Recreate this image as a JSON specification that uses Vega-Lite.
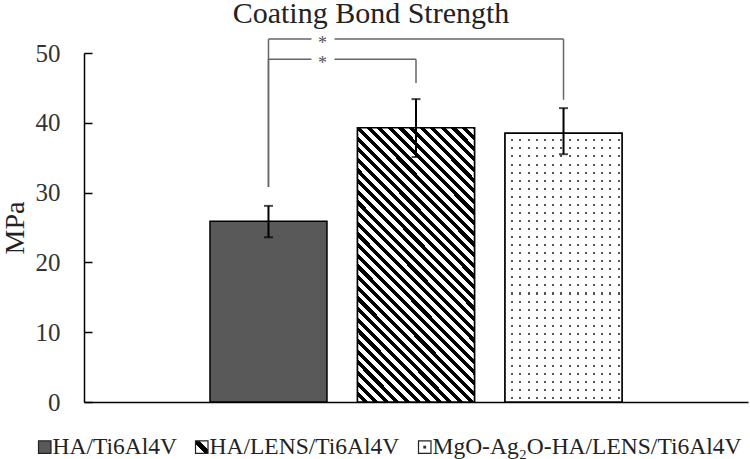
{
  "$schema": "https://vega.github.io/schema/vega-lite/v6.json",
  "width": 664,
  "height": 349,
  "autosize": {"type": "none"},
  "padding": {"left": 84, "top": 53, "right": 2, "bottom": 57},
  "background": "white",
  "title": {"text": "Coating Bond Strength", "font": "Liberation Serif", "fontSize": 30, "fontWeight": "normal", "color": "#222222", "anchor": "middle", "frame": "group", "dx": -45, "offset": -18, "baseline": "alphabetic"},
  "datasets": {
    "bars": [
      {"group": "HA/Ti6Al4V", "mpa": 25.9, "lo": 23.6, "hi": 28.1},
      {"group": "HA/LENS/Ti6Al4V", "mpa": 39.3, "lo": 35.1, "hi": 43.4},
      {"group": "MgO-Ag₂O-HA/LENS/Ti6Al4V", "mpa": 38.5, "lo": 35.5, "hi": 42.1}
    ],
    "brackets": [
      {"g1": "HA/Ti6Al4V", "g2": "MgO-Ag₂O-HA/LENS/Ti6Al4V", "level": 52.0, "end1": 30.8, "end2": 43.3},
      {"g1": "HA/Ti6Al4V", "g2": "HA/LENS/Ti6Al4V", "level": 49.1, "end1": 30.8, "end2": 45.7}
    ]
  },
  "config": {
    "view": {"stroke": null},
    "axisX": {"labels": false, "ticks": false, "grid": false, "domainColor": "black", "domainWidth": 1.5},
    "axisY": {"grid": false, "domainColor": "black", "domainWidth": 1.5, "tickColor": "black", "tickWidth": 1.5, "tickSize": -8, "labelPadding": 32, "labelFont": "Liberation Serif", "labelFontSize": 25, "labelColor": "#333333", "titleFont": "Liberation Serif", "titleFontSize": 28, "titleFontWeight": "normal", "titleColor": "#222222", "titleX": -61, "titleBaseline": "alphabetic"}
  },
  "layer": [
    {
      "data": {"name": "bars"},
      "mark": {"type": "bar", "stroke": "black", "strokeWidth": 1.5},
      "encoding": {
        "x": {"field": "group", "type": "nominal", "sort": null, "title": null, "scale": {"domain": ["HA/Ti6Al4V", "HA/LENS/Ti6Al4V", "MgO-Ag₂O-HA/LENS/Ti6Al4V"], "paddingInner": 0.207, "paddingOuter": 0.854}},
        "y": {"field": "mpa", "type": "quantitative", "title": "MPa", "scale": {"domain": [0, 50], "nice": false}, "axis": {"values": [0, 10, 20, 30, 40, 50]}},
        "fill": {
          "field": "group", "type": "nominal",
          "scale": {
            "domain": ["HA/Ti6Al4V", "HA/LENS/Ti6Al4V", "MgO-Ag₂O-HA/LENS/Ti6Al4V"],
            "range": [
              "#595959",
              {"expr": "{gradient: 'linear', x1: 0, y1: 1, x2: 1, y2: 0, stops: [{offset: 0, color: 'white'}, {offset: 0.36, color: 'white'}, {offset: 0.36, color: 'black'}, {offset: 0.64, color: 'black'}, {offset: 0.64, color: 'white'}, {offset: 1, color: 'white'}]}"},
              {"expr": "{gradient: 'radial', x1: 0.5, y1: 0.5, r1: 0, x2: 0.5, y2: 0.5, r2: 0.5, stops: [{offset: 0, color: '#333333'}, {offset: 0.28, color: '#333333'}, {offset: 0.28, color: 'white'}, {offset: 1, color: 'white'}]}"}
            ]
          },
          "legend": {"title": null, "orient": "none", "legendX": -51, "legendY": 382, "direction": "horizontal", "columns": 3, "labelFont": "Liberation Serif", "labelFontSize": 23.5, "labelColor": "#222222", "labelLimit": 500, "symbolType": "square", "symbolSize": 156, "symbolStrokeColor": "#222222", "symbolStrokeWidth": 1.2, "columnPadding": 13, "labelOffset": -4}
        }
      }
    },
    {
      "data": {"name": "bars"},
      "transform": [{"filter": "datum.group === 'HA/LENS/Ti6Al4V'"}],
      "mark": {"type": "bar", "stroke": "black", "strokeWidth": 1.5, "fill": {"gradient": "linear", "x1": 0, "y1": 1, "x2": 0.563, "y2": -0.313, "stops": [
        {"offset": 0, "color": "#fff"}, {"offset": 0.013, "color": "#fff"}, {"offset": 0.013, "color": "#000"}, {"offset": 0.025, "color": "#000"},
        {"offset": 0.025, "color": "#fff"}, {"offset": 0.038, "color": "#fff"}, {"offset": 0.038, "color": "#000"}, {"offset": 0.05, "color": "#000"},
        {"offset": 0.05, "color": "#fff"}, {"offset": 0.063, "color": "#fff"}, {"offset": 0.063, "color": "#000"}, {"offset": 0.075, "color": "#000"},
        {"offset": 0.075, "color": "#fff"}, {"offset": 0.088, "color": "#fff"}, {"offset": 0.088, "color": "#000"}, {"offset": 0.1, "color": "#000"},
        {"offset": 0.1, "color": "#fff"}, {"offset": 0.113, "color": "#fff"}, {"offset": 0.113, "color": "#000"}, {"offset": 0.125, "color": "#000"},
        {"offset": 0.125, "color": "#fff"}, {"offset": 0.138, "color": "#fff"}, {"offset": 0.138, "color": "#000"}, {"offset": 0.15, "color": "#000"},
        {"offset": 0.15, "color": "#fff"}, {"offset": 0.163, "color": "#fff"}, {"offset": 0.163, "color": "#000"}, {"offset": 0.175, "color": "#000"},
        {"offset": 0.175, "color": "#fff"}, {"offset": 0.188, "color": "#fff"}, {"offset": 0.188, "color": "#000"}, {"offset": 0.2, "color": "#000"},
        {"offset": 0.2, "color": "#fff"}, {"offset": 0.213, "color": "#fff"}, {"offset": 0.213, "color": "#000"}, {"offset": 0.225, "color": "#000"},
        {"offset": 0.225, "color": "#fff"}, {"offset": 0.238, "color": "#fff"}, {"offset": 0.238, "color": "#000"}, {"offset": 0.25, "color": "#000"},
        {"offset": 0.25, "color": "#fff"}, {"offset": 0.263, "color": "#fff"}, {"offset": 0.263, "color": "#000"}, {"offset": 0.275, "color": "#000"},
        {"offset": 0.275, "color": "#fff"}, {"offset": 0.288, "color": "#fff"}, {"offset": 0.288, "color": "#000"}, {"offset": 0.3, "color": "#000"},
        {"offset": 0.3, "color": "#fff"}, {"offset": 0.313, "color": "#fff"}, {"offset": 0.313, "color": "#000"}, {"offset": 0.325, "color": "#000"},
        {"offset": 0.325, "color": "#fff"}, {"offset": 0.338, "color": "#fff"}, {"offset": 0.338, "color": "#000"}, {"offset": 0.35, "color": "#000"},
        {"offset": 0.35, "color": "#fff"}, {"offset": 0.363, "color": "#fff"}, {"offset": 0.363, "color": "#000"}, {"offset": 0.375, "color": "#000"},
        {"offset": 0.375, "color": "#fff"}, {"offset": 0.388, "color": "#fff"}, {"offset": 0.388, "color": "#000"}, {"offset": 0.4, "color": "#000"},
        {"offset": 0.4, "color": "#fff"}, {"offset": 0.413, "color": "#fff"}, {"offset": 0.413, "color": "#000"}, {"offset": 0.425, "color": "#000"},
        {"offset": 0.425, "color": "#fff"}, {"offset": 0.438, "color": "#fff"}, {"offset": 0.438, "color": "#000"}, {"offset": 0.45, "color": "#000"},
        {"offset": 0.45, "color": "#fff"}, {"offset": 0.463, "color": "#fff"}, {"offset": 0.463, "color": "#000"}, {"offset": 0.475, "color": "#000"},
        {"offset": 0.475, "color": "#fff"}, {"offset": 0.488, "color": "#fff"}, {"offset": 0.488, "color": "#000"}, {"offset": 0.5, "color": "#000"},
        {"offset": 0.5, "color": "#fff"}, {"offset": 0.513, "color": "#fff"}, {"offset": 0.513, "color": "#000"}, {"offset": 0.525, "color": "#000"},
        {"offset": 0.525, "color": "#fff"}, {"offset": 0.538, "color": "#fff"}, {"offset": 0.538, "color": "#000"}, {"offset": 0.55, "color": "#000"},
        {"offset": 0.55, "color": "#fff"}, {"offset": 0.563, "color": "#fff"}, {"offset": 0.563, "color": "#000"}, {"offset": 0.575, "color": "#000"},
        {"offset": 0.575, "color": "#fff"}, {"offset": 0.588, "color": "#fff"}, {"offset": 0.588, "color": "#000"}, {"offset": 0.6, "color": "#000"},
        {"offset": 0.6, "color": "#fff"}, {"offset": 0.613, "color": "#fff"}, {"offset": 0.613, "color": "#000"}, {"offset": 0.625, "color": "#000"},
        {"offset": 0.625, "color": "#fff"}, {"offset": 0.638, "color": "#fff"}, {"offset": 0.638, "color": "#000"}, {"offset": 0.65, "color": "#000"},
        {"offset": 0.65, "color": "#fff"}, {"offset": 0.663, "color": "#fff"}, {"offset": 0.663, "color": "#000"}, {"offset": 0.675, "color": "#000"},
        {"offset": 0.675, "color": "#fff"}, {"offset": 0.688, "color": "#fff"}, {"offset": 0.688, "color": "#000"}, {"offset": 0.7, "color": "#000"},
        {"offset": 0.7, "color": "#fff"}, {"offset": 0.713, "color": "#fff"}, {"offset": 0.713, "color": "#000"}, {"offset": 0.725, "color": "#000"},
        {"offset": 0.725, "color": "#fff"}, {"offset": 0.738, "color": "#fff"}, {"offset": 0.738, "color": "#000"}, {"offset": 0.75, "color": "#000"},
        {"offset": 0.75, "color": "#fff"}, {"offset": 0.763, "color": "#fff"}, {"offset": 0.763, "color": "#000"}, {"offset": 0.775, "color": "#000"},
        {"offset": 0.775, "color": "#fff"}, {"offset": 0.788, "color": "#fff"}, {"offset": 0.788, "color": "#000"}, {"offset": 0.8, "color": "#000"},
        {"offset": 0.8, "color": "#fff"}, {"offset": 0.813, "color": "#fff"}, {"offset": 0.813, "color": "#000"}, {"offset": 0.825, "color": "#000"},
        {"offset": 0.825, "color": "#fff"}, {"offset": 0.838, "color": "#fff"}, {"offset": 0.838, "color": "#000"}, {"offset": 0.85, "color": "#000"},
        {"offset": 0.85, "color": "#fff"}, {"offset": 0.863, "color": "#fff"}, {"offset": 0.863, "color": "#000"}, {"offset": 0.875, "color": "#000"},
        {"offset": 0.875, "color": "#fff"}, {"offset": 0.888, "color": "#fff"}, {"offset": 0.888, "color": "#000"}, {"offset": 0.9, "color": "#000"},
        {"offset": 0.9, "color": "#fff"}, {"offset": 0.913, "color": "#fff"}, {"offset": 0.913, "color": "#000"}, {"offset": 0.925, "color": "#000"},
        {"offset": 0.925, "color": "#fff"}, {"offset": 0.938, "color": "#fff"}, {"offset": 0.938, "color": "#000"}, {"offset": 0.95, "color": "#000"},
        {"offset": 0.95, "color": "#fff"}, {"offset": 1, "color": "#fff"}
      ]}},
      "encoding": {
        "x": {"field": "group", "type": "nominal", "sort": null, "title": null, "scale": {"domain": ["HA/Ti6Al4V", "HA/LENS/Ti6Al4V", "MgO-Ag₂O-HA/LENS/Ti6Al4V"], "paddingInner": 0.207, "paddingOuter": 0.854}},
        "y": {"field": "mpa", "type": "quantitative", "title": "MPa"}
      }
    },
    {
      "data": {"name": "bars"},
      "transform": [{"filter": "datum.group !== 'HA/Ti6Al4V' && datum.group !== 'HA/LENS/Ti6Al4V'"}],
      "mark": {"type": "bar", "strokeWidth": 0, "fill": {"gradient": "linear", "x1": 0, "y1": 0, "x2": 0, "y2": 1, "stops": [
        {"offset": 0, "color": "#fff"}, {"offset": 0.0225, "color": "#fff"}, {"offset": 0.0225, "color": "#555"}, {"offset": 0.03, "color": "#555"},
        {"offset": 0.03, "color": "#fff"}, {"offset": 0.0525, "color": "#fff"}, {"offset": 0.0525, "color": "#555"}, {"offset": 0.06, "color": "#555"},
        {"offset": 0.06, "color": "#fff"}, {"offset": 0.0825, "color": "#fff"}, {"offset": 0.0825, "color": "#555"}, {"offset": 0.09, "color": "#555"},
        {"offset": 0.09, "color": "#fff"}, {"offset": 0.1125, "color": "#fff"}, {"offset": 0.1125, "color": "#555"}, {"offset": 0.12, "color": "#555"},
        {"offset": 0.12, "color": "#fff"}, {"offset": 0.1425, "color": "#fff"}, {"offset": 0.1425, "color": "#555"}, {"offset": 0.15, "color": "#555"},
        {"offset": 0.15, "color": "#fff"}, {"offset": 0.1725, "color": "#fff"}, {"offset": 0.1725, "color": "#555"}, {"offset": 0.18, "color": "#555"},
        {"offset": 0.18, "color": "#fff"}, {"offset": 0.2025, "color": "#fff"}, {"offset": 0.2025, "color": "#555"}, {"offset": 0.21, "color": "#555"},
        {"offset": 0.21, "color": "#fff"}, {"offset": 0.2325, "color": "#fff"}, {"offset": 0.2325, "color": "#555"}, {"offset": 0.24, "color": "#555"},
        {"offset": 0.24, "color": "#fff"}, {"offset": 0.2625, "color": "#fff"}, {"offset": 0.2625, "color": "#555"}, {"offset": 0.27, "color": "#555"},
        {"offset": 0.27, "color": "#fff"}, {"offset": 0.2925, "color": "#fff"}, {"offset": 0.2925, "color": "#555"}, {"offset": 0.3, "color": "#555"},
        {"offset": 0.3, "color": "#fff"}, {"offset": 0.3225, "color": "#fff"}, {"offset": 0.3225, "color": "#555"}, {"offset": 0.33, "color": "#555"},
        {"offset": 0.33, "color": "#fff"}, {"offset": 0.3525, "color": "#fff"}, {"offset": 0.3525, "color": "#555"}, {"offset": 0.36, "color": "#555"},
        {"offset": 0.36, "color": "#fff"}, {"offset": 0.3825, "color": "#fff"}, {"offset": 0.3825, "color": "#555"}, {"offset": 0.39, "color": "#555"},
        {"offset": 0.39, "color": "#fff"}, {"offset": 0.4125, "color": "#fff"}, {"offset": 0.4125, "color": "#555"}, {"offset": 0.42, "color": "#555"},
        {"offset": 0.42, "color": "#fff"}, {"offset": 0.4425, "color": "#fff"}, {"offset": 0.4425, "color": "#555"}, {"offset": 0.45, "color": "#555"},
        {"offset": 0.45, "color": "#fff"}, {"offset": 0.4725, "color": "#fff"}, {"offset": 0.4725, "color": "#555"}, {"offset": 0.48, "color": "#555"},
        {"offset": 0.48, "color": "#fff"}, {"offset": 0.5025, "color": "#fff"}, {"offset": 0.5025, "color": "#555"}, {"offset": 0.51, "color": "#555"},
        {"offset": 0.51, "color": "#fff"}, {"offset": 0.5325, "color": "#fff"}, {"offset": 0.5325, "color": "#555"}, {"offset": 0.54, "color": "#555"},
        {"offset": 0.54, "color": "#fff"}, {"offset": 0.5625, "color": "#fff"}, {"offset": 0.5625, "color": "#555"}, {"offset": 0.57, "color": "#555"},
        {"offset": 0.57, "color": "#fff"}, {"offset": 0.5925, "color": "#fff"}, {"offset": 0.5925, "color": "#555"}, {"offset": 0.6, "color": "#555"},
        {"offset": 0.6, "color": "#fff"}, {"offset": 0.6225, "color": "#fff"}, {"offset": 0.6225, "color": "#555"}, {"offset": 0.63, "color": "#555"},
        {"offset": 0.63, "color": "#fff"}, {"offset": 0.6525, "color": "#fff"}, {"offset": 0.6525, "color": "#555"}, {"offset": 0.66, "color": "#555"},
        {"offset": 0.66, "color": "#fff"}, {"offset": 0.6825, "color": "#fff"}, {"offset": 0.6825, "color": "#555"}, {"offset": 0.69, "color": "#555"},
        {"offset": 0.69, "color": "#fff"}, {"offset": 0.7125, "color": "#fff"}, {"offset": 0.7125, "color": "#555"}, {"offset": 0.72, "color": "#555"},
        {"offset": 0.72, "color": "#fff"}, {"offset": 0.7425, "color": "#fff"}, {"offset": 0.7425, "color": "#555"}, {"offset": 0.75, "color": "#555"},
        {"offset": 0.75, "color": "#fff"}, {"offset": 0.7725, "color": "#fff"}, {"offset": 0.7725, "color": "#555"}, {"offset": 0.78, "color": "#555"},
        {"offset": 0.78, "color": "#fff"}, {"offset": 0.8025, "color": "#fff"}, {"offset": 0.8025, "color": "#555"}, {"offset": 0.81, "color": "#555"},
        {"offset": 0.81, "color": "#fff"}, {"offset": 0.8325, "color": "#fff"}, {"offset": 0.8325, "color": "#555"}, {"offset": 0.84, "color": "#555"},
        {"offset": 0.84, "color": "#fff"}, {"offset": 0.8625, "color": "#fff"}, {"offset": 0.8625, "color": "#555"}, {"offset": 0.87, "color": "#555"},
        {"offset": 0.87, "color": "#fff"}, {"offset": 0.8925, "color": "#fff"}, {"offset": 0.8925, "color": "#555"}, {"offset": 0.9, "color": "#555"},
        {"offset": 0.9, "color": "#fff"}, {"offset": 0.9225, "color": "#fff"}, {"offset": 0.9225, "color": "#555"}, {"offset": 0.93, "color": "#555"},
        {"offset": 0.93, "color": "#fff"}, {"offset": 0.9525, "color": "#fff"}, {"offset": 0.9525, "color": "#555"}, {"offset": 0.96, "color": "#555"},
        {"offset": 0.96, "color": "#fff"}, {"offset": 0.9825, "color": "#fff"}, {"offset": 0.9825, "color": "#555"}, {"offset": 0.99, "color": "#555"},
        {"offset": 0.99, "color": "#fff"}, {"offset": 1, "color": "#fff"}
      ]}},
      "encoding": {
        "x": {"field": "group", "type": "nominal", "sort": null, "title": null, "scale": {"domain": ["HA/Ti6Al4V", "HA/LENS/Ti6Al4V", "MgO-Ag₂O-HA/LENS/Ti6Al4V"], "paddingInner": 0.207, "paddingOuter": 0.854}},
        "y": {"field": "mpa", "type": "quantitative", "title": "MPa"}
      }
    },
    {
      "data": {"name": "bars"},
      "transform": [{"filter": "datum.group !== 'HA/Ti6Al4V' && datum.group !== 'HA/LENS/Ti6Al4V'"}],
      "mark": {"type": "bar", "stroke": "black", "strokeWidth": 1.5, "fill": {"gradient": "linear", "x1": 0, "y1": 0, "x2": 1, "y2": 0, "stops": [
        {"offset": 0, "color": "rgba(255,255,255,1)"}, {"offset": 0.053, "color": "rgba(255,255,255,1)"}, {"offset": 0.053, "color": "rgba(255,255,255,0)"}, {"offset": 0.07, "color": "rgba(255,255,255,0)"},
        {"offset": 0.07, "color": "rgba(255,255,255,1)"}, {"offset": 0.123, "color": "rgba(255,255,255,1)"}, {"offset": 0.123, "color": "rgba(255,255,255,0)"}, {"offset": 0.14, "color": "rgba(255,255,255,0)"},
        {"offset": 0.14, "color": "rgba(255,255,255,1)"}, {"offset": 0.193, "color": "rgba(255,255,255,1)"}, {"offset": 0.193, "color": "rgba(255,255,255,0)"}, {"offset": 0.21, "color": "rgba(255,255,255,0)"},
        {"offset": 0.21, "color": "rgba(255,255,255,1)"}, {"offset": 0.263, "color": "rgba(255,255,255,1)"}, {"offset": 0.263, "color": "rgba(255,255,255,0)"}, {"offset": 0.28, "color": "rgba(255,255,255,0)"},
        {"offset": 0.28, "color": "rgba(255,255,255,1)"}, {"offset": 0.333, "color": "rgba(255,255,255,1)"}, {"offset": 0.333, "color": "rgba(255,255,255,0)"}, {"offset": 0.35, "color": "rgba(255,255,255,0)"},
        {"offset": 0.35, "color": "rgba(255,255,255,1)"}, {"offset": 0.403, "color": "rgba(255,255,255,1)"}, {"offset": 0.403, "color": "rgba(255,255,255,0)"}, {"offset": 0.42, "color": "rgba(255,255,255,0)"},
        {"offset": 0.42, "color": "rgba(255,255,255,1)"}, {"offset": 0.473, "color": "rgba(255,255,255,1)"}, {"offset": 0.473, "color": "rgba(255,255,255,0)"}, {"offset": 0.49, "color": "rgba(255,255,255,0)"},
        {"offset": 0.49, "color": "rgba(255,255,255,1)"}, {"offset": 0.543, "color": "rgba(255,255,255,1)"}, {"offset": 0.543, "color": "rgba(255,255,255,0)"}, {"offset": 0.56, "color": "rgba(255,255,255,0)"},
        {"offset": 0.56, "color": "rgba(255,255,255,1)"}, {"offset": 0.613, "color": "rgba(255,255,255,1)"}, {"offset": 0.613, "color": "rgba(255,255,255,0)"}, {"offset": 0.63, "color": "rgba(255,255,255,0)"},
        {"offset": 0.63, "color": "rgba(255,255,255,1)"}, {"offset": 0.683, "color": "rgba(255,255,255,1)"}, {"offset": 0.683, "color": "rgba(255,255,255,0)"}, {"offset": 0.7, "color": "rgba(255,255,255,0)"},
        {"offset": 0.7, "color": "rgba(255,255,255,1)"}, {"offset": 0.753, "color": "rgba(255,255,255,1)"}, {"offset": 0.753, "color": "rgba(255,255,255,0)"}, {"offset": 0.77, "color": "rgba(255,255,255,0)"},
        {"offset": 0.77, "color": "rgba(255,255,255,1)"}, {"offset": 0.823, "color": "rgba(255,255,255,1)"}, {"offset": 0.823, "color": "rgba(255,255,255,0)"}, {"offset": 0.84, "color": "rgba(255,255,255,0)"},
        {"offset": 0.84, "color": "rgba(255,255,255,1)"}, {"offset": 0.893, "color": "rgba(255,255,255,1)"}, {"offset": 0.893, "color": "rgba(255,255,255,0)"}, {"offset": 0.91, "color": "rgba(255,255,255,0)"},
        {"offset": 0.91, "color": "rgba(255,255,255,1)"}, {"offset": 0.963, "color": "rgba(255,255,255,1)"}, {"offset": 0.963, "color": "rgba(255,255,255,0)"}, {"offset": 0.98, "color": "rgba(255,255,255,0)"},
        {"offset": 0.98, "color": "rgba(255,255,255,1)"}, {"offset": 1, "color": "rgba(255,255,255,1)"}
      ]}},
      "encoding": {
        "x": {"field": "group", "type": "nominal", "sort": null, "title": null, "scale": {"domain": ["HA/Ti6Al4V", "HA/LENS/Ti6Al4V", "MgO-Ag₂O-HA/LENS/Ti6Al4V"], "paddingInner": 0.207, "paddingOuter": 0.854}},
        "y": {"field": "mpa", "type": "quantitative", "title": "MPa"}
      }
    },
    {
      "data": {"name": "bars"},
      "mark": {"type": "rule", "color": "black", "strokeWidth": 2},
      "encoding": {
        "x": {"field": "group", "type": "nominal", "sort": null, "title": null},
        "y": {"field": "lo", "type": "quantitative", "title": "MPa"},
        "y2": {"field": "hi"}
      }
    },
    {
      "data": {"name": "bars"},
      "mark": {"type": "tick", "orient": "horizontal", "color": "black", "size": 9, "thickness": 2},
      "encoding": {
        "x": {"field": "group", "type": "nominal", "sort": null, "title": null},
        "y": {"field": "lo", "type": "quantitative", "title": "MPa"}
      }
    },
    {
      "data": {"name": "bars"},
      "mark": {"type": "tick", "orient": "horizontal", "color": "black", "size": 9, "thickness": 2},
      "encoding": {
        "x": {"field": "group", "type": "nominal", "sort": null, "title": null},
        "y": {"field": "hi", "type": "quantitative", "title": "MPa"}
      }
    },
    {
      "data": {"name": "brackets"},
      "mark": {"type": "rule", "color": "#666666", "strokeWidth": 1.5},
      "encoding": {
        "x": {"field": "g1", "type": "nominal", "title": null},
        "y": {"field": "level", "type": "quantitative", "title": "MPa"},
        "y2": {"field": "end1"}
      }
    },
    {
      "data": {"name": "brackets"},
      "mark": {"type": "rule", "color": "#666666", "strokeWidth": 1.5},
      "encoding": {
        "x": {"field": "g2", "type": "nominal", "title": null},
        "y": {"field": "level", "type": "quantitative", "title": "MPa"},
        "y2": {"field": "end2"}
      }
    },
    {
      "data": {"name": "brackets"},
      "mark": {"type": "rule", "color": "#666666", "strokeWidth": 1.5, "x2Offset": 43},
      "encoding": {
        "x": {"field": "g1", "type": "nominal", "title": null},
        "x2": {"field": "g1"},
        "y": {"field": "level", "type": "quantitative", "title": "MPa"}
      }
    },
    {
      "data": {"name": "brackets"},
      "mark": {"type": "rule", "color": "#666666", "strokeWidth": 1.5, "xOffset": 66},
      "encoding": {
        "x": {"field": "g1", "type": "nominal", "title": null},
        "x2": {"field": "g2"},
        "y": {"field": "level", "type": "quantitative", "title": "MPa"}
      }
    },
    {
      "data": {"name": "brackets"},
      "mark": {"type": "text", "text": "*", "font": "Liberation Serif", "fontSize": 18, "color": "#555555", "dx": 54, "dy": 5, "baseline": "middle", "align": "center"},
      "encoding": {
        "x": {"field": "g1", "type": "nominal", "title": null},
        "y": {"field": "level", "type": "quantitative", "title": "MPa"}
      }
    }
  ]
}
